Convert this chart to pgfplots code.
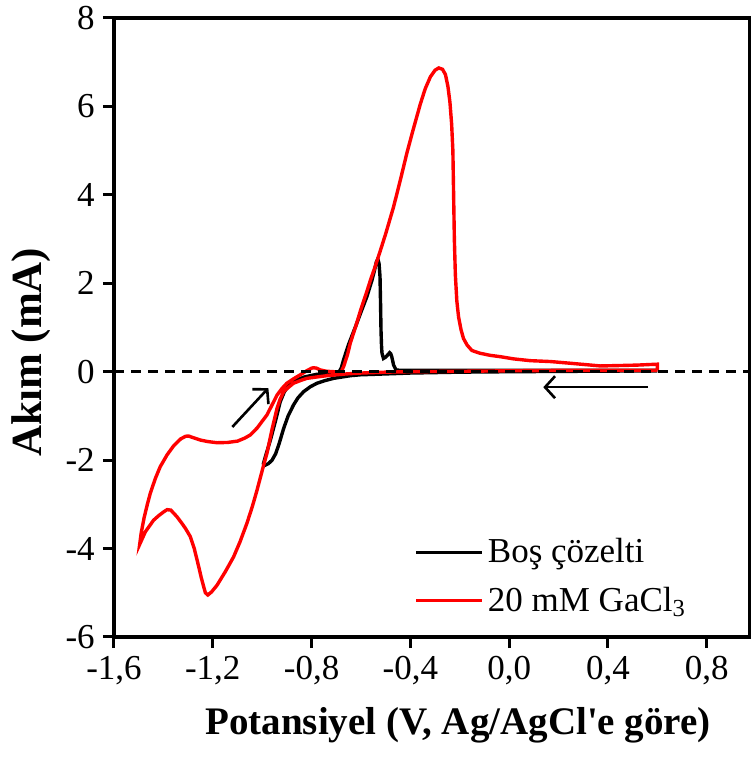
\documentclass[border=0pt]{standalone}
\usepackage{fontspec}
\setmainfont{Liberation Serif}
\usepackage{pgfplots}
\pgfplotsset{compat=1.18}
\usetikzlibrary{arrows.meta,calc}
\begin{document}
\begin{tikzpicture}
\begin{axis}[
  scale only axis, width=318pt, height=309.5pt,
  xmin=-1.6, xmax=0.975, ymin=-6, ymax=8,
  xtick={-1.6,-1.2,-0.8,-0.4,0,0.4,0.8},
  ytick={-6,-4,-2,0,2,4,6,8},
  xtick pos=bottom, ytick pos=left,
  tick align=outside, major tick length=5.5pt,
  every axis/.append style={line width=1.6pt},
  axis line style={line width=1.6pt},
  every tick/.style={black, line width=1.5pt},
  /pgf/number format/assume math mode=true,
  tick label style={font=\fontsize{17.5}{20}\selectfont},
  xticklabel style={/pgf/number format/.cd, fixed, fixed zerofill, precision=1, use comma},
  yticklabel style={/pgf/number format/.cd, fixed, precision=0},
  xlabel={Potansiyel (V, Ag/AgCl\textquotesingle e göre)},
  ylabel={Akım (mA)},
  xlabel style={font=\bfseries\fontsize{19.5}{22}\selectfont, at={(axis description cs:0.541,-0.142)}, anchor=center},
  ylabel style={font=\bfseries\fontsize{21.5}{24}\selectfont, at={(axis description cs:-0.13,0.46)}, anchor=center},
  legend style={draw=none, fill=none, at={(axis description cs:0.47,0.168)}, anchor=north west,
    font=\fontsize{17.5}{20}\selectfont, row sep=6.5pt, inner sep=0pt,
    /tikz/every even column/.append style={column sep=3pt}},
  legend cell align=left,
  legend image code/.code={\draw[#1] (0pt,0pt) -- (33pt,0pt);},
]
\addplot[black, line width=1.7pt] coordinates {
(0.6,0.02) (0.3,0.01) (0.0,0.0) (-0.2,-0.01) (-0.4,-0.03) (-0.5,-0.05) (-0.603,-0.07)
(-0.643,-0.09) (-0.711,-0.15) (-0.745,-0.2) (-0.778,-0.26) (-0.805,-0.34) (-0.832,-0.45)
(-0.855,-0.59) (-0.873,-0.75) (-0.895,-1.0) (-0.913,-1.28) (-0.93,-1.6) (-0.945,-1.85)
(-0.96,-2.0) (-0.975,-2.08) (-0.99,-2.12) (-0.995,-2.08) (-0.987,-1.92) (-0.967,-1.55)
(-0.947,-1.13) (-0.927,-0.68) (-0.91,-0.45) (-0.89,-0.3) (-0.87,-0.21) (-0.83,-0.12)
(-0.78,-0.06) (-0.72,-0.03) (-0.69,-0.01) (-0.68,0.08) (-0.67,0.28) (-0.65,0.62)
(-0.62,1.05) (-0.6,1.35) (-0.576,1.7) (-0.555,2.08) (-0.545,2.3) (-0.538,2.48)
(-0.532,2.55) (-0.527,2.45) (-0.523,2.15) (-0.521,1.6) (-0.519,0.94) (-0.517,0.6)
(-0.515,0.42) (-0.509,0.30) (-0.5,0.33) (-0.492,0.38) (-0.484,0.43) (-0.479,0.4)
(-0.475,0.33) (-0.468,0.15) (-0.458,0.04) (-0.44,0.03) (-0.2,0.03) (0.2,0.03) (0.6,0.03)
};
\addlegendentry{Boş çözelti}
\addplot[red, line width=1.7pt] coordinates {
(0.6,0.03) (0.4,0.03) (0.2,0.03) (0.0,0.02) (-0.2,0.01) (-0.4,0.0) (-0.5,-0.01)
(-0.6,-0.03) (-0.66,-0.05) (-0.7,-0.07) (-0.738,-0.09) (-0.78,-0.12) (-0.819,-0.15)
(-0.845,-0.2) (-0.873,-0.26) (-0.895,-0.36) (-0.913,-0.45) (-0.928,-0.63) (-0.94,-0.83)
(-0.96,-1.3) (-0.981,-1.85) (-0.994,-2.11) (-1.021,-2.68) (-1.04,-3.05) (-1.062,-3.43)
(-1.09,-3.85) (-1.116,-4.19) (-1.149,-4.52) (-1.183,-4.83) (-1.205,-4.98) (-1.22,-5.05)
(-1.23,-5.0) (-1.237,-4.86) (-1.247,-4.65) (-1.257,-4.41) (-1.275,-4.0) (-1.291,-3.73)
(-1.31,-3.55) (-1.325,-3.43) (-1.345,-3.28) (-1.37,-3.13) (-1.385,-3.12) (-1.399,-3.17)
(-1.42,-3.26) (-1.44,-3.36) (-1.473,-3.62) (-1.496,-3.905)
(-1.49,-3.65) (-1.478,-3.3) (-1.465,-3.0) (-1.453,-2.75) (-1.433,-2.42) (-1.413,-2.15)
(-1.385,-1.88) (-1.359,-1.68) (-1.33,-1.52) (-1.31,-1.46) (-1.298,-1.455) (-1.275,-1.5)
(-1.251,-1.545) (-1.22,-1.58) (-1.183,-1.606) (-1.14,-1.6) (-1.1,-1.57) (-1.07,-1.5)
(-1.048,-1.43) (-1.02,-1.27) (-1.0,-1.12) (-0.981,-0.98) (-0.96,-0.75) (-0.94,-0.53)
(-0.92,-0.38) (-0.9,-0.26) (-0.87,-0.15) (-0.846,-0.07) (-0.82,0.02) (-0.8,0.08)
(-0.792,0.09) (-0.78,0.08) (-0.765,0.04) (-0.74,0.01) (-0.71,0.0) (-0.69,-0.01)
(-0.68,0.0) (-0.67,0.12) (-0.655,0.38) (-0.643,0.65) (-0.62,1.05) (-0.6,1.42)
(-0.58,1.75) (-0.56,2.1) (-0.54,2.42) (-0.521,2.75) (-0.5,3.12) (-0.468,3.73)
(-0.44,4.35) (-0.414,4.95) (-0.39,5.45) (-0.36,6.05) (-0.34,6.4) (-0.319,6.67)
(-0.3,6.82) (-0.285,6.87) (-0.27,6.84) (-0.258,6.72) (-0.248,6.45) (-0.24,6.1)
(-0.233,5.6) (-0.228,5.0) (-0.225,4.0) (-0.222,3.0) (-0.218,2.2) (-0.212,1.6)
(-0.205,1.24) (-0.195,0.95) (-0.185,0.75) (-0.17,0.6) (-0.151,0.48) (-0.12,0.42)
(-0.077,0.37) (-0.036,0.34) (0.018,0.29) (0.085,0.25) (0.167,0.23) (0.25,0.19)
(0.37,0.13) (0.45,0.14) (0.52,0.15) (0.6,0.17) (0.6,0.03)
};
\addlegendentry{20 mM GaCl\textsubscript{3}}
\addplot[black, line width=1.5pt, dash pattern=on 5pt off 3.5pt, forget plot] coordinates {(-1.6,0) (0.975,0)};
\draw[black, line width=1.3pt, -{Straight Barb[length=5pt,width=11pt]}] (axis cs:0.563,-0.35) -- (axis cs:0.138,-0.35);
\draw[black, line width=1.3pt, -{Straight Barb[length=5pt,width=11pt]}] (axis cs:-1.121,-1.25) -- (axis cs:-0.975,-0.37);
\end{axis}
\pgfresetboundingbox
\path ($(current axis.south west)+(-57pt,-60pt)$) rectangle ($(current axis.north east)+(0pt,9pt)$);
\end{tikzpicture}
\end{document}
